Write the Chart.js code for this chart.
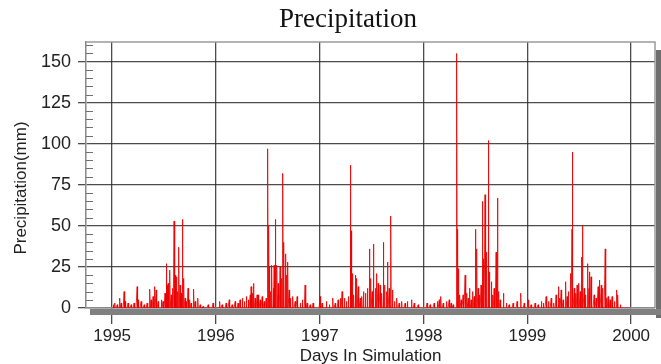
<!DOCTYPE html>
<html>
<head>
<meta charset="utf-8">
<script src="https://cdn.jsdelivr.net/npm/chart.js@4.4.1/dist/chart.umd.min.js"></script>
<style>
  html, body { margin: 0; padding: 0; background: #ffffff; }
</style>
</head>
<body>
<canvas id="precipChart" width="661" height="364"></canvas>
<script>
// tick labels and positions (day index from 1 Jan 1995)
const yearLabels = ['1995', '1996', '1997', '1998', '1999', '2000'];
const yearStartDay = [0, 365, 731, 1096, 1461, 1826];
const yTicks = [0, 25, 50, 75, 100, 125, 150];

// wet days: [day of year, precipitation mm]
const wet1995 = [
    [4, 2], [10, 3], [18, 2], [27, 6], [32, 3], [42, 10], [46, 4], [56, 3], [67, 2], [77, 3],
    [88, 13], [91, 5], [102, 4], [113, 2], [123, 3], [133, 11.5], [137, 5], [144, 7], [150, 13],
    [155, 11], [162, 4], [173, 5], [179, 4], [186, 9], [191, 27], [193, 14], [197, 15], [203, 23],
    [208, 8], [213, 12], [218, 53], [222, 20], [226, 19], [230, 10], [235, 37], [239, 14], [243, 9],
    [247, 54], [252, 18], [257, 6], [262, 4], [267, 12], [273, 5], [278, 3], [287, 11.5], [292, 4],
    [302, 6], [310, 2], [320, 1], [338, 2], [355, 3]
];
const wet1996 = [
    [14, 4], [22, 2], [36, 3], [47, 5], [57, 2], [68, 4], [78, 3], [85, 5], [93, 6], [100, 4],
    [107, 7], [114, 5], [121, 8], [124, 13], [129, 9], [132, 15], [138, 6], [145, 8], [149, 8],
    [156, 5], [163, 7], [170, 4], [177, 6], [183, 97], [186, 50], [189, 25], [193, 10], [197, 26],
    [202, 12], [205, 26], [210, 54], [215, 26], [219, 15], [226, 25], [232, 18], [236, 82], [239, 40],
    [245, 33], [249, 20], [253, 28], [258, 11], [263, 6], [271, 7], [279, 4], [286, 7], [297, 3],
    [304, 5], [314, 14], [321, 3], [332, 2], [342, 3]
];
const wet1997 = [
    [1, 7], [8, 3], [23, 4], [33, 2], [46, 6], [54, 3], [64, 5], [72, 6], [78, 10], [80, 9],
    [86, 6], [93, 4], [100, 7], [108, 87], [110, 47], [114, 21], [119, 8], [125, 20], [130, 18],
    [135, 13], [142, 6], [148, 7], [153, 10], [160, 9], [167, 12], [175, 36], [179, 18], [184, 10],
    [189, 39], [195, 12], [200, 21], [205, 15], [212, 14], [218, 9], [224, 40], [228, 14], [234, 10],
    [238, 28], [244, 12], [250, 56], [255, 11], [262, 4], [271, 6], [279, 3], [288, 4], [300, 3],
    [308, 4], [322, 5], [332, 3], [346, 2]
];
const wet1998 = [
    [12, 3], [23, 2], [37, 3], [48, 4], [55, 5], [61, 7], [69, 3], [80, 4], [90, 5], [97, 3],
    [104, 2], [115, 13], [117, 155], [119, 48], [123, 24], [127, 8], [132, 5], [139, 8], [146, 20],
    [152, 9], [157, 6], [161, 12], [167, 5], [173, 10], [178, 7], [182, 48], [187, 36], [192, 12],
    [197, 8], [202, 14], [207, 65], [211, 30], [216, 69], [222, 34], [228, 102], [232, 22], [238, 16],
    [243, 8], [248, 12], [255, 34], [260, 67], [264, 10], [269, 5], [281, 9], [291, 3], [301, 2],
    [315, 3], [329, 4], [342, 9], [354, 3]
];
const wet1999 = [
    [4, 5], [13, 2], [27, 3], [38, 2], [49, 4], [57, 3], [66, 7], [75, 4], [84, 6], [93, 3],
    [101, 8], [109, 13], [114, 6], [119, 11], [126, 5], [135, 16], [140, 7], [145, 10], [153, 21],
    [157, 48], [159, 95], [165, 12], [170, 9], [175, 14], [181, 15], [186, 10], [191, 31], [194, 50],
    [200, 12], [205, 8], [213, 27], [217, 12], [219, 22], [224, 19], [235, 8], [242, 6], [249, 13],
    [254, 17], [260, 14], [265, 12], [274, 36], [279, 6], [284, 7], [291, 5], [298, 7], [306, 4],
    [315, 11], [318, 8], [327, 2]
];

const wetByYear = [wet1995, wet1996, wet1997, wet1998, wet1999];

// one value per simulated day, dry days stay at 0
const daily = new Array(yearStartDay[5]).fill(0);
wetByYear.forEach((list, i) => {
    list.forEach(([doy, mm]) => { daily[yearStartDay[i] + doy] = mm; });
});
const points = daily.map((v, d) => ({ x: d, y: v }));

const axisFont = { family: 'Liberation Sans, Arial, sans-serif', size: 17 };
const gridColor = 'rgba(45,45,45,0.85)';

// frame, shadow, minor ticks, y title and the serif chart title
const framePlugin = {
    id: 'frame',
    afterDraw(chart) {
        const { ctx, chartArea: a } = chart;
        const yScale = chart.scales.y;
        ctx.save();

        ctx.strokeStyle = '#9a9a9a';
        ctx.lineWidth = 1.5;
        ctx.beginPath();
        ctx.moveTo(a.left, a.top);
        ctx.lineTo(a.right, a.top);
        ctx.lineTo(a.right, a.bottom);
        ctx.stroke();

        // shadow on the right and bottom
        ctx.fillStyle = '#6e6e6e';
        ctx.fillRect(a.right + 1, a.top + 8, 5, a.bottom - a.top + 2);
        ctx.fillStyle = '#808080';
        ctx.fillRect(a.left + 4, a.bottom + 1, a.right - a.left + 2, 6);

        // minor ticks every 5 mm on the inside of the left axis
        ctx.strokeStyle = '#707070';
        ctx.lineWidth = 1;
        for (let v = 5; v <= 160; v += 5) {
            if (v % 25 === 0) continue;
            const y = Math.round(yScale.getPixelForValue(v)) + 0.5;
            ctx.beginPath();
            ctx.moveTo(a.left, y);
            ctx.lineTo(a.left + 7, y);
            ctx.stroke();
        }

        ctx.fillStyle = '#222222';
        ctx.font = '17px "Liberation Sans", Arial, sans-serif';
        ctx.textAlign = 'center';
        ctx.textBaseline = 'middle';
        ctx.translate(21, 188);
        ctx.rotate(-Math.PI / 2);
        ctx.fillText('Precipitation(mm)', 0, 0);
        ctx.setTransform(1, 0, 0, 1, 0, 0);

        ctx.fillStyle = '#111111';
        ctx.font = '27px "Liberation Serif", "Times New Roman", serif';
        ctx.fillText('Precipitation', 348, 20);
        ctx.restore();
    }
};

const ctx = document.getElementById('precipChart').getContext('2d');
new Chart(ctx, {
    type: 'line',
    data: {
        datasets: [{
            label: 'Precipitation',
            data: points,
            borderColor: 'rgba(236,0,0,0.85)',
            borderWidth: 1,
            pointRadius: 0,
            tension: 0,
            fill: false
        }]
    },
    options: {
        responsive: false,
        animation: false,
        layout: { padding: { top: 42, right: 6, left: 0, bottom: 0 } },
        plugins: {
            legend: { display: false },
            tooltip: { enabled: false },
            title: { display: false }
        },
        scales: {
            x: {
                type: 'linear',
                min: -92,
                max: 1910,
                afterBuildTicks: scale => { scale.ticks = yearStartDay.map(v => ({ value: v })); },
                afterFit: scale => { scale.height = 56; },
                ticks: {
                    autoSkip: false,
                    maxRotation: 0,
                    padding: 2,
                    color: '#222222',
                    font: axisFont,
                    callback: value => yearLabels[yearStartDay.indexOf(value)]
                },
                grid: { color: gridColor, lineWidth: 1.3, tickLength: 16 },
                border: { color: '#8a8a8a', width: 1.5 },
                title: {
                    display: true,
                    text: 'Days In Simulation',
                    color: '#222222',
                    font: axisFont,
                    padding: { top: 0, bottom: -3 }
                }
            },
            y: {
                min: 0,
                max: 162,
                afterBuildTicks: scale => { scale.ticks = yTicks.map(v => ({ value: v })); },
                afterFit: scale => { scale.width = 86; },
                ticks: {
                    padding: 7,
                    color: '#222222',
                    font: { family: axisFont.family, size: 18 }
                },
                grid: { color: gridColor, lineWidth: 1.3, tickLength: 8 },
                border: { color: '#8a8a8a', width: 1.5 }
            }
        }
    },
    plugins: [framePlugin]
});
</script>
</body>
</html>
